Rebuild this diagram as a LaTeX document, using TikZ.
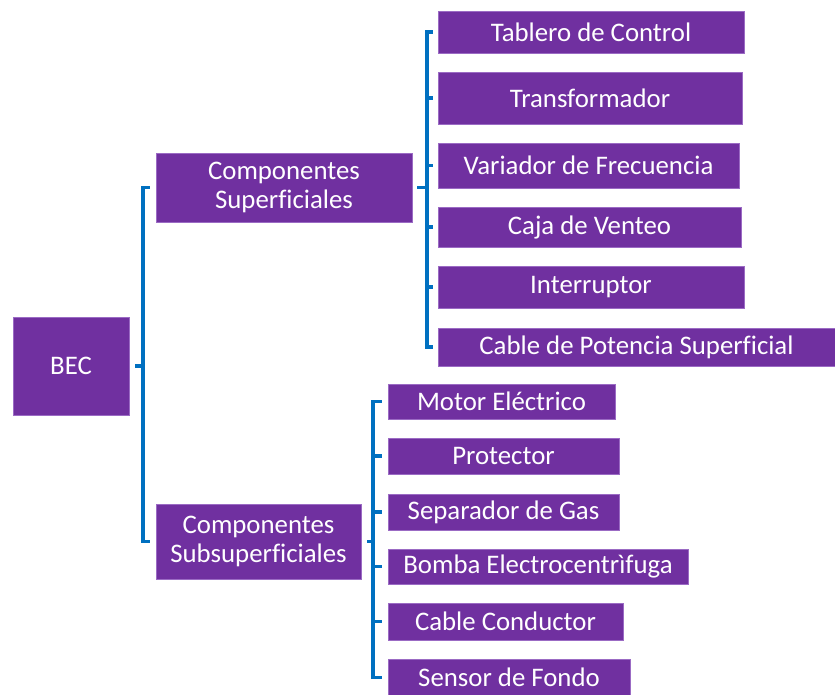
\documentclass[tikz,border=0pt]{standalone}
\usepackage{fontspec}
\setmainfont{Carlito}[Ligatures=CommonOff]
\definecolor{morado}{HTML}{7030A0}
\definecolor{bordemorado}{HTML}{9B6BC4}
\definecolor{azul}{HTML}{0070C0}

\begin{document}
\begin{tikzpicture}[x=1pt,y=-1pt,
  caja/.style={fill=morado,draw=bordemorado,line width=0.8pt,text=white,
    inner sep=0pt,align=center,font=\fontsize{26.8}{28.5}\selectfont},
  rama/.style={draw=azul,line width=3.8pt}]
  \useasboundingbox (0,0) rectangle (835,694);

  % -=-=-=-=- RAIZ -=-=-=-=-
  \node[caja,minimum width=116pt,minimum height=98pt] (bec) at (71,366) {BEC};

  % -=-=-=-=- GRUPOS -=-=-=-=-
  \node[caja,minimum width=256pt,minimum height=69pt] (cs) at (284,187.5) {Componentes\\Superficiales};
  \node[caja,minimum width=205pt,minimum height=75pt] (css) at (258.5,541.5) {Componentes\\Subsuperficiales};

  % -=-=-=-=- SUPERFICIALES -=-=-=-=-
  \node[caja,minimum width=306pt,minimum height=42pt] (tab) at (591,32) {Tablero de Control};
  \node[caja,minimum width=304pt,minimum height=52pt] (trf) at (590,98) {Transformador};
  \node[caja,minimum width=301pt,minimum height=45pt] (var) at (588.5,165.5) {Variador de Frecuencia};
  \node[caja,minimum width=303pt,minimum height=40pt] (caj) at (589.5,227) {Caja de Venteo};
  \node[caja,minimum width=306pt,minimum height=42pt] (int) at (591,287) {Interruptor};
  \node[caja,minimum width=397pt,minimum height=38pt] (cpot) at (636.5,347) {Cable de Potencia Superficial};

  % -=-=-=-=- SUBSUPERFICIALES -=-=-=-=-
  \node[caja,minimum width=227pt,minimum height=35pt] (mot) at (501.5,401.5) {Motor Eléctrico};
  \node[caja,minimum width=231pt,minimum height=36pt] (pro) at (503.5,456) {Protector};
  \node[caja,minimum width=231pt,minimum height=36pt] (sep) at (503.5,512) {Separador de Gas};
  \node[caja,minimum width=300pt,minimum height=35pt] (bom) at (538,566.5) {Bomba Electrocentrìfuga};
  \node[caja,minimum width=235pt,minimum height=37pt] (ccon) at (505.5,621.5) {Cable Conductor};
  \node[caja,minimum width=242pt,minimum height=37pt] (sen) at (509,677.5) {Sensor de Fondo};

  % -=-=-=-=- LLAVES -=-=-=-=-
  \draw[rama] ([xshift=6pt]bec.east) -- ++(8pt,0);
  \draw[rama] ([xshift=-6pt]cs.west) -- ++(-7pt,0) |- ([xshift=-6pt]css.west);

  \draw[rama] ([xshift=5pt]cs.east) -- ++(10pt,0);
  \draw[rama] ([xshift=-5pt]tab.west) -- ++(-6pt,0) |- ([xshift=-5pt]cpot.west);
  \foreach \n in {trf,var,caj,int}
    \draw[rama] ([xshift=-5pt]\n.west) -- ++(-6pt,0);

  \draw[rama] ([xshift=6pt]css.east) -- ++(6pt,0);
  \draw[rama] ([xshift=-6pt]mot.west) -- ++(-9pt,0) |- ([xshift=-6pt]sen.west);
  \foreach \n in {pro,sep,bom,ccon}
    \draw[rama] ([xshift=-6pt]\n.west) -- ++(-9pt,0);
\end{tikzpicture}
\end{document}
